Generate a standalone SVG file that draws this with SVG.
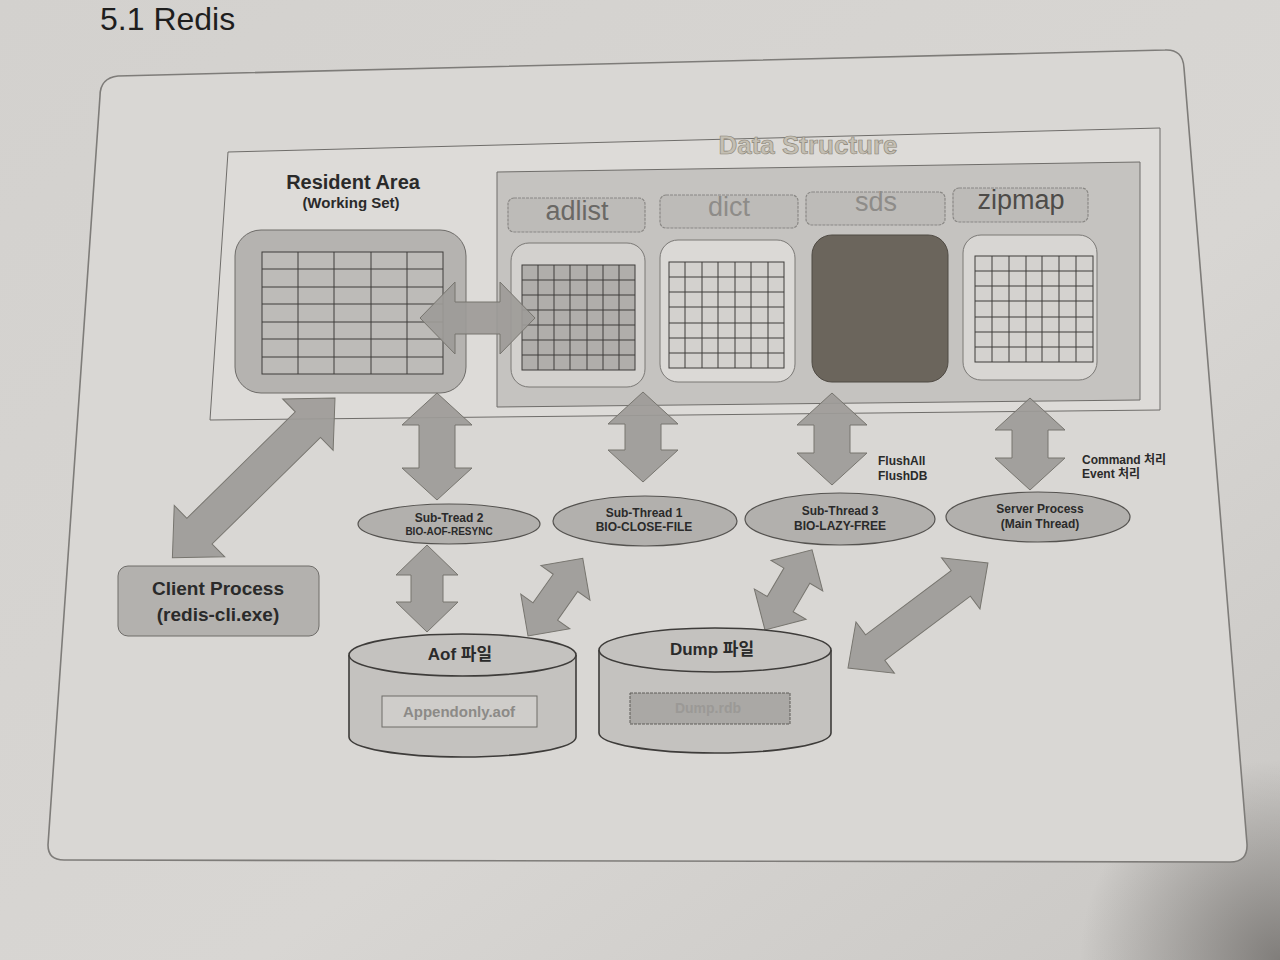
<svg xmlns="http://www.w3.org/2000/svg" width="1280" height="960" viewBox="0 0 1280 960">
<defs>
<linearGradient id="page" x1="0" y1="0" x2="1" y2="1">
<stop offset="0" stop-color="#d3d1ce"/>
<stop offset="0.6" stop-color="#d8d6d3"/>
<stop offset="1" stop-color="#c9c7c4"/>
</linearGradient>
<radialGradient id="shadow" cx="1280" cy="960" r="200" gradientUnits="userSpaceOnUse">
<stop offset="0" stop-color="#6e6b68" stop-opacity="0.8"/>
<stop offset="1" stop-color="#6e6b68" stop-opacity="0"/>
</radialGradient>
<style>
.t{font-family:"Liberation Sans","Noto Sans CJK KR",Arial,sans-serif;font-weight:bold;text-anchor:middle;fill:#2a2a2a}
.arr{fill:#9d9b98;stroke:#77756f;stroke-width:1;fill-opacity:0.92}
.lbl{fill:#bdbbb8;stroke:#8a8885;stroke-width:1.2;stroke-dasharray:3 1}
.grid{fill:none;stroke:#3f3d3a;stroke-width:1}
.ell{fill:#b2b0ad;stroke:#555350;stroke-width:1.2}
.cyl{fill:#c4c2bf;stroke:#3e3c3a;stroke-width:1.6}
.ds{font-family:"Liberation Sans",Arial,sans-serif;font-weight:normal;text-anchor:middle;font-size:27px}
</style>
</defs>
<rect width="1280" height="960" fill="url(#page)"/>
<rect width="1280" height="960" fill="url(#shadow)"/>
<text x="100" y="30" font-family="Liberation Sans, Arial, sans-serif" font-size="32" fill="#1e1e1e">5.1 Redis</text>

<g id="frame">
<path d="M100 96 Q100 78 118 76 L1165 50 Q1183 49 1184 68 L1247 844 Q1248 862 1230 862 L64 860 Q48 860 48 845 Z" fill="#d9d7d4" stroke="#7e7c79" stroke-width="1.6"/>
</g>

<g id="data-structure-area">
<polygon points="228,152 1160,128 1160,410 210,420" fill="#dddbd8" stroke="#6f6d6a" stroke-width="1"/>
<text x="808" y="154" font-family="Liberation Sans, Arial, sans-serif" font-weight="bold" font-size="26" text-anchor="middle" fill="#c4bfb3" stroke="#8a8476" stroke-width="0.6">Data Structure</text>
<polygon points="497,172 1140,162 1140,400 497,407" fill="#c5c3c0" stroke="#6f6d6a" stroke-width="1"/>
</g>

<g id="resident-area">
<text class="t" x="353" y="189" font-size="20">Resident Area</text>
<text class="t" x="351" y="208" font-size="15">(Working Set)</text>
<rect x="235" y="230" width="231" height="163" rx="26" fill="#b5b3b0" stroke="#6e6c69" stroke-width="1"/>
<rect x="262" y="252" width="181" height="122" fill="#bdbbb8" stroke="#3f3d3a"/>
<path class="grid" d="M298 252V374M334 252V374M371 252V374M407 252V374"/>
<path class="grid" stroke-width="2" d="M262 269H443M262 287H443M262 304H443M262 322H443M262 339H443M262 357H443"/>
</g>

<g id="adlist">
<rect class="lbl" x="508" y="198" width="137" height="34" rx="6"/>
<text class="ds" x="577" y="220" fill="#6a6865">adlist</text>
<rect x="511" y="243" width="134" height="144" rx="18" fill="#d3d1ce" stroke="#7a7875"/>
<rect x="522" y="265" width="113" height="105" fill="#b0aeab" stroke="#3f3d3a"/>
<path class="grid" d="M538 265V370M554 265V370M570 265V370M587 265V370M603 265V370M619 265V370M522 280H635M522 295H635M522 310H635M522 325H635M522 340H635M522 355H635"/>
</g>

<g id="dict">
<rect class="lbl" x="660" y="195" width="138" height="33" rx="6"/>
<text class="ds" x="729" y="216" fill="#8e8c89">dict</text>
<rect x="660" y="240" width="135" height="142" rx="18" fill="#dbd9d6" stroke="#7a7875"/>
<rect x="669" y="262" width="115" height="106" fill="#d3d1ce" stroke="#3f3d3a"/>
<path class="grid" d="M685 262V368M702 262V368M718 262V368M735 262V368M751 262V368M768 262V368M669 277H784M669 292H784M669 307H784M669 323H784M669 338H784M669 353H784"/>
</g>

<g id="sds">
<rect class="lbl" x="806" y="192" width="139" height="33" rx="6"/>
<text class="ds" x="876" y="211" fill="#8e8c89">sds</text>
<rect x="812" y="235" width="136" height="147" rx="20" fill="#6b655c" stroke="#4f4a43"/>
</g>

<g id="zipmap">
<rect class="lbl" x="953" y="188" width="135" height="34" rx="6" fill="#c4c2bf"/>
<text class="ds" x="1021" y="209" fill="#4e4c49">zipmap</text>
<rect x="963" y="235" width="134" height="145" rx="18" fill="#d8d6d3" stroke="#7a7875"/>
<rect x="975" y="256" width="118" height="106" fill="#d4d2cf" stroke="#3f3d3a"/>
<path class="grid" d="M992 256V362M1009 256V362M1026 256V362M1042 256V362M1059 256V362M1076 256V362M975 271H1093M975 286H1093M975 301H1093M975 317H1093M975 332H1093M975 347H1093"/>
</g>

<g id="connectors">
<polygon class="arr" transform="translate(420 318)" points="0,0 35,-36 35,-16 80,-16 80,-36 115,0 80,36 80,16 35,16 35,36"/>
<polygon class="arr" transform="translate(437 393) rotate(90)" points="0,0 32,-35 32,-18 75,-18 75,-35 107,0 75,35 75,18 32,18 32,35"/>
<polygon class="arr" transform="translate(643 392) rotate(90)" points="0,0 32,-35 32,-18 58,-18 58,-35 90,0 58,35 58,18 32,18 32,35"/>
<polygon class="arr" transform="translate(832 393) rotate(90)" points="0,0 32,-35 32,-18 60,-18 60,-35 92,0 60,35 60,18 32,18 32,35"/>
<polygon class="arr" transform="translate(1030 398) rotate(90)" points="0,0 32,-35 32,-18 60,-18 60,-35 92,0 60,35 60,18 32,18 32,35"/>
<polygon class="arr" transform="translate(335 398) rotate(135.5)" points="0,0 38,-36 38,-18 190,-18 190,-36 228,0 190,36 190,18 38,18 38,36"/>
<polygon class="arr" transform="translate(427 545) rotate(90)" points="0,0 30,-31 30,-16 57,-16 57,-31 87,0 57,31 57,16 30,16 30,31"/>
<polygon class="arr" transform="translate(528 636) rotate(-54.8)" points="0,0 30,-30 30,-15 65,-15 65,-30 95,0 65,30 65,15 30,15 30,30"/>
<polygon class="arr" transform="translate(765 630) rotate(-59.6)" points="0,0 30,-30 30,-15 63,-15 63,-30 93,0 63,30 63,15 30,15 30,30"/>
<polygon class="arr" transform="translate(848 668) rotate(-36.9)" points="0,0 34,-32 34,-16 141,-16 141,-32 175,0 141,32 141,16 34,16 34,32"/>
</g>

<g id="sub-tread-2">
<ellipse class="ell" cx="449" cy="524" rx="91" ry="20"/>
<text class="t" x="449" y="522" font-size="12">Sub-Tread 2</text>
<text class="t" x="449" y="535" font-size="10">BIO-AOF-RESYNC</text>
</g>
<g id="sub-thread-1">
<ellipse class="ell" cx="645" cy="521" rx="92" ry="25"/>
<text class="t" x="644" y="517" font-size="12">Sub-Thread 1</text>
<text class="t" x="644" y="531" font-size="12">BIO-CLOSE-FILE</text>
</g>
<g id="sub-thread-3">
<ellipse class="ell" cx="840" cy="519" rx="95" ry="26"/>
<text class="t" x="840" y="515" font-size="12">Sub-Thread 3</text>
<text class="t" x="840" y="530" font-size="12">BIO-LAZY-FREE</text>
<text class="t" x="878" y="465" font-size="12" style="text-anchor:start">FlushAll</text>
<text class="t" x="878" y="480" font-size="12" style="text-anchor:start">FlushDB</text>
</g>
<g id="server-process">
<ellipse class="ell" cx="1038" cy="517" rx="92" ry="25"/>
<text class="t" x="1040" y="513" font-size="12">Server Process</text>
<text class="t" x="1040" y="528" font-size="12">(Main Thread)</text>
<text class="t" x="1082" y="464" font-size="12" style="text-anchor:start">Command 처리</text>
<text class="t" x="1082" y="478" font-size="12" style="text-anchor:start">Event 처리</text>
</g>

<g id="client-process">
<rect x="118" y="566" width="201" height="70" rx="10" fill="#b3b1ae" stroke="#6e6c69"/>
<text class="t" x="218" y="595" font-size="19">Client Process</text>
<text class="t" x="218" y="621" font-size="19">(redis-cli.exe)</text>
</g>

<g id="aof-file">
<path class="cyl" d="M349 655 V737 A113.5 20 0 0 0 576 737 V655"/>
<ellipse class="cyl" cx="462.5" cy="655" rx="113.5" ry="21" fill="#c8c6c3"/>
<text class="t" x="460" y="660" font-size="17">Aof 파일</text>
<rect x="382" y="696" width="155" height="31" fill="#cfcdca" stroke="#6e6c69"/>
<text class="t" x="459" y="717" font-size="15" style="fill:#8c8a87">Appendonly.aof</text>
</g>

<g id="dump-file">
<path class="cyl" d="M599 650 V733 A116 20 0 0 0 831 733 V650"/>
<ellipse class="cyl" cx="715" cy="650" rx="116" ry="22" fill="#c8c6c3"/>
<text class="t" x="712" y="655" font-size="17">Dump 파일</text>
<rect x="630" y="693" width="160" height="31" fill="#aaa8a5" stroke="#5e5c59" stroke-dasharray="3 1"/>
<text class="t" x="708" y="713" font-size="14" style="fill:#9b9996">Dump.rdb</text>
</g>
</svg>
